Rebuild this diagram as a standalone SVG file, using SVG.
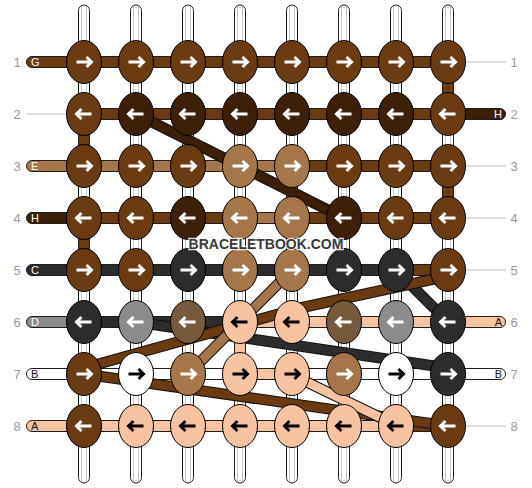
<svg xmlns="http://www.w3.org/2000/svg" xmlns:xlink="http://www.w3.org/1999/xlink" width="532" height="488" viewBox="0 0 532 488">
<style>
.k{stroke:#000;stroke-width:1}
.t{stroke:#1e1e1e;stroke-width:1}
.G{fill:#6A3A10}.H{fill:#3B1F07}.E{fill:#A5764A}.A{fill:#F8C3A0}.C{fill:#2C2C2C}.D{fill:#8B8A8C}.F{fill:#765A3D}.B{fill:#fff}
.W{fill:url(#wv)}
.aw{fill:none;stroke:#fff;stroke-width:3}
.ab{fill:none;stroke:#000;stroke-width:3}
.num{font-family:"Liberation Sans",Arial,sans-serif;font-size:13px;fill:#9a9a9a;text-anchor:middle}
.lb{font-family:"Liberation Sans",Arial,sans-serif;font-size:11px}
.lw{fill:#fff}.lk{fill:#111}
.gl{stroke:#bbb;stroke-width:1}
.o{fill:none;stroke:#111;stroke-width:11;stroke-linejoin:round}
.d{fill:none;stroke-width:9;stroke-linejoin:round}
.sG{stroke:#6A3A10}.sH{stroke:#3B1F07}.sE{stroke:#A5764A}.sA{stroke:#F8C3A0}.sC{stroke:#2C2C2C}
.wm{font-family:"Liberation Sans",Arial,sans-serif;font-size:14px;font-weight:bold;fill:#3a3a3a;text-anchor:middle;stroke:#fff;stroke-opacity:0.85;stroke-width:2.5;paint-order:stroke}
</style>
<defs>
<linearGradient id="wv" x1="0" y1="0" x2="1" y2="0">
<stop offset="0" stop-color="#fff"/><stop offset="0.2" stop-color="#fff"/><stop offset="0.2" stop-color="#c8c8c8"/><stop offset="0.29" stop-color="#c8c8c8"/><stop offset="0.29" stop-color="#fff"/><stop offset="0.71" stop-color="#fff"/><stop offset="0.71" stop-color="#c8c8c8"/><stop offset="0.8" stop-color="#c8c8c8"/><stop offset="0.8" stop-color="#fff"/><stop offset="1" stop-color="#fff"/>
</linearGradient>
<path id="r" d="M-7.5,0H7M2.5,-5L7.5,0L2.5,5"/>
<path id="l" d="M7.5,0H-7M-2.5,-5L-7.5,0L-2.5,5"/>
</defs>
<rect width="532" height="488" fill="#fff"/>

<g id="labels">
<text class="num" x="17" y="66.5">1</text><text class="num" x="17" y="118.5">2</text><text class="num" x="17" y="170.5">3</text><text class="num" x="17" y="222.5">4</text>
<text class="num" x="17" y="274.5">5</text><text class="num" x="17" y="326.5">6</text><text class="num" x="17" y="378.5">7</text><text class="num" x="17" y="430.5">8</text>
<text class="num" x="514" y="66.5">1</text><text class="num" x="514" y="118.5">2</text><text class="num" x="514" y="170.5">3</text><text class="num" x="514" y="222.5">4</text>
<text class="num" x="514" y="274.5">5</text><text class="num" x="514" y="326.5">6</text><text class="num" x="514" y="378.5">7</text><text class="num" x="514" y="430.5">8</text>
<line class="gl" x1="27" y1="114" x2="67" y2="114"/>
<line class="gl" x1="465" y1="62" x2="506" y2="62"/>
<line class="gl" x1="465" y1="166" x2="506" y2="166"/>
<line class="gl" x1="465" y1="218" x2="506" y2="218"/>
<line class="gl" x1="465" y1="270" x2="506" y2="270"/>
<line class="gl" x1="465" y1="426" x2="506" y2="426"/>
</g>

<g id="connectors">
<!-- top and bottom warp threads -->
<rect class="t W" x="78.5" y="5" width="11" height="60" rx="5.5"/>
<rect class="t W" x="130.5" y="5" width="11" height="60" rx="5.5"/>
<rect class="t W" x="182.5" y="5" width="11" height="60" rx="5.5"/>
<rect class="t W" x="234.5" y="5" width="11" height="60" rx="5.5"/>
<rect class="t W" x="286.5" y="5" width="11" height="60" rx="5.5"/>
<rect class="t W" x="338.5" y="5" width="11" height="60" rx="5.5"/>
<rect class="t W" x="390.5" y="5" width="11" height="60" rx="5.5"/>
<rect class="t W" x="442.5" y="5" width="11" height="60" rx="5.5"/>
<rect class="t W" x="78.5" y="423" width="11" height="60" rx="5.5"/>
<rect class="t W" x="130.5" y="423" width="11" height="60" rx="5.5"/>
<rect class="t W" x="182.5" y="423" width="11" height="60" rx="5.5"/>
<rect class="t W" x="234.5" y="423" width="11" height="60" rx="5.5"/>
<rect class="t W" x="286.5" y="423" width="11" height="60" rx="5.5"/>
<rect class="t W" x="338.5" y="423" width="11" height="60" rx="5.5"/>
<rect class="t W" x="390.5" y="423" width="11" height="60" rx="5.5"/>
<rect class="t W" x="442.5" y="423" width="11" height="60" rx="5.5"/>
<!-- vertical segments -->
<g>
<rect class="t W" x="78.5" y="62" width="11" height="52"/><rect class="t W" x="130.5" y="62" width="11" height="52"/><rect class="t W" x="182.5" y="62" width="11" height="52"/><rect class="t W" x="234.5" y="62" width="11" height="52"/><rect class="t W" x="286.5" y="62" width="11" height="52"/><rect class="t W" x="338.5" y="62" width="11" height="52"/><rect class="t W" x="390.5" y="62" width="11" height="52"/><rect class="t G" x="442.5" y="62" width="11" height="52"/>
<rect class="t G" x="78.5" y="114" width="11" height="52"/><rect class="t W" x="130.5" y="114" width="11" height="52"/><rect class="t W" x="182.5" y="114" width="11" height="52"/><rect class="t W" x="234.5" y="114" width="11" height="52"/><rect class="t W" x="286.5" y="114" width="11" height="52"/><rect class="t W" x="338.5" y="114" width="11" height="52"/><rect class="t W" x="390.5" y="114" width="11" height="52"/><rect class="t W" x="442.5" y="114" width="11" height="52"/>
<rect class="t W" x="78.5" y="166" width="11" height="52"/><rect class="t W" x="130.5" y="166" width="11" height="52"/><rect class="t W" x="182.5" y="166" width="11" height="52"/><rect class="t W" x="234.5" y="166" width="11" height="52"/><rect class="t E" x="286.5" y="166" width="11" height="52"/><rect class="t W" x="338.5" y="166" width="11" height="52"/><rect class="t W" x="390.5" y="166" width="11" height="52"/><rect class="t G" x="442.5" y="166" width="11" height="52"/>
<rect class="t G" x="78.5" y="218" width="11" height="52"/><rect class="t W" x="130.5" y="218" width="11" height="52"/><rect class="t W" x="182.5" y="218" width="11" height="52"/><rect class="t W" x="234.5" y="218" width="11" height="52"/><rect class="t W" x="286.5" y="218" width="11" height="52"/><rect class="t W" x="338.5" y="218" width="11" height="52"/><rect class="t W" x="390.5" y="218" width="11" height="52"/><rect class="t W" x="442.5" y="218" width="11" height="52"/>
<rect class="t W" x="78.5" y="270" width="11" height="52"/><rect class="t W" x="130.5" y="270" width="11" height="52"/><rect class="t W" x="182.5" y="270" width="11" height="52"/><rect class="t W" x="234.5" y="270" width="11" height="52"/><rect class="t W" x="286.5" y="270" width="11" height="52"/><rect class="t W" x="338.5" y="270" width="11" height="52"/><rect class="t W" x="390.5" y="270" width="11" height="52"/><rect class="t W" x="442.5" y="270" width="11" height="52"/>
<rect class="t W" x="78.5" y="322" width="11" height="52"/><rect class="t W" x="130.5" y="322" width="11" height="52"/><rect class="t W" x="182.5" y="322" width="11" height="52"/><rect class="t W" x="286.5" y="322" width="11" height="52"/><rect class="t W" x="338.5" y="322" width="11" height="52"/><rect class="t W" x="390.5" y="322" width="11" height="52"/><rect class="t W" x="442.5" y="322" width="11" height="52"/>
<rect class="t W" x="78.5" y="374" width="11" height="52"/><rect class="t W" x="130.5" y="374" width="11" height="52"/><rect class="t W" x="182.5" y="374" width="11" height="52"/><rect class="t W" x="234.5" y="374" width="11" height="52"/><rect class="t W" x="286.5" y="374" width="11" height="52"/><rect class="t W" x="338.5" y="374" width="11" height="52"/><rect class="t W" x="390.5" y="374" width="11" height="52"/><rect class="t W" x="442.5" y="374" width="11" height="52"/>
</g>
<!-- horizontal threads: ends -->
<rect class="t G" x="26.5" y="56.5" width="62" height="11" rx="5.5"/>
<rect class="t E" x="26.5" y="160.5" width="62" height="11" rx="5.5"/>
<rect class="t H" x="26.5" y="212.5" width="62" height="11" rx="5.5"/>
<rect class="t C" x="26.5" y="264.5" width="62" height="11" rx="5.5"/>
<rect class="t D" x="26.5" y="316.5" width="62" height="11" rx="5.5"/>
<rect class="t B" x="26.5" y="368.5" width="62" height="11" rx="5.5"/>
<rect class="t A" x="26.5" y="420.5" width="62" height="11" rx="5.5"/>
<rect class="t H" x="444" y="108.5" width="61.5" height="11" rx="5.5"/>
<rect class="t A" x="444" y="316.5" width="61.5" height="11" rx="5.5"/>
<rect class="t B" x="444" y="368.5" width="61.5" height="11" rx="5.5"/>
<!-- horizontal segments -->
<g>
<rect class="t G" x="84" y="56.5" width="364" height="11"/>
<rect class="t G" x="84" y="108.5" width="364" height="11"/>
<rect class="t E" x="84" y="160.5" width="208" height="11"/><rect class="t G" x="292" y="160.5" width="156" height="11"/>
<rect class="t G" x="84" y="212.5" width="156" height="11"/><rect class="t E" x="240" y="212.5" width="52" height="11"/><rect class="t G" x="292" y="212.5" width="156" height="11"/>
<rect class="t C" x="84" y="264.5" width="312" height="11"/><rect class="t G" x="396" y="264.5" width="52" height="11"/>
<rect class="t C" x="84" y="316.5" width="156" height="11"/><rect class="t A" x="240" y="316.5" width="208" height="11"/>
<rect class="t B" x="84" y="368.5" width="156" height="11"/><rect class="t A" x="240" y="368.5" width="52" height="11"/><rect class="t B" x="292" y="368.5" width="156" height="11"/>
<rect class="t A" x="84" y="420.5" width="312" height="11"/><rect class="t G" x="396" y="420.5" width="52" height="11"/>
</g>
<!-- diagonal jumps -->
<path class="o" d="M136,322L448,368"/><path class="d sC" d="M136,322L448,368"/>
<path class="o" d="M396,270L448,322"/><path class="d sC" d="M396,270L448,322"/>
<path class="o" d="M448,276L300,308L84,368"/><path class="d sG" d="M448,276L300,308L84,368"/>
<path class="o" d="M84,374L448,426"/><path class="d sG" d="M84,374L448,426"/>
<path class="o" d="M292,270L240,322L188,374"/><path class="d sE" d="M292,270L240,322L188,374"/>
<path class="o" d="M292,375L396,425"/><path class="d sA" d="M292,375L396,425"/>
<path class="o" d="M136,114L344,218"/><path class="d sH" d="M136,114L344,218"/>
<rect class="t A" x="234.5" y="322" width="11" height="52"/>
</g>

<g id="knots">
<g id="k1-1" transform="translate(84,62)"><ellipse class="k G" rx="17.5" ry="21.5"/><use href="#r" class="aw"/></g>
<g id="k1-2" transform="translate(136,62)"><ellipse class="k G" rx="17.5" ry="21.5"/><use href="#r" class="aw"/></g>
<g id="k1-3" transform="translate(188,62)"><ellipse class="k G" rx="17.5" ry="21.5"/><use href="#r" class="aw"/></g>
<g id="k1-4" transform="translate(240,62)"><ellipse class="k G" rx="17.5" ry="21.5"/><use href="#r" class="aw"/></g>
<g id="k1-5" transform="translate(292,62)"><ellipse class="k G" rx="17.5" ry="21.5"/><use href="#r" class="aw"/></g>
<g id="k1-6" transform="translate(344,62)"><ellipse class="k G" rx="17.5" ry="21.5"/><use href="#r" class="aw"/></g>
<g id="k1-7" transform="translate(396,62)"><ellipse class="k G" rx="17.5" ry="21.5"/><use href="#r" class="aw"/></g>
<g id="k1-8" transform="translate(448,62)"><ellipse class="k G" rx="17.5" ry="21.5"/><use href="#r" class="aw"/></g>

<g id="k2-1" transform="translate(84,114)"><ellipse class="k G" rx="17.5" ry="21.5"/><use href="#l" class="aw"/></g>
<g id="k2-2" transform="translate(136,114)"><ellipse class="k H" rx="17.5" ry="21.5"/><use href="#l" class="aw"/></g>
<g id="k2-3" transform="translate(188,114)"><ellipse class="k H" rx="17.5" ry="21.5"/><use href="#l" class="aw"/></g>
<g id="k2-4" transform="translate(240,114)"><ellipse class="k H" rx="17.5" ry="21.5"/><use href="#l" class="aw"/></g>
<g id="k2-5" transform="translate(292,114)"><ellipse class="k H" rx="17.5" ry="21.5"/><use href="#l" class="aw"/></g>
<g id="k2-6" transform="translate(344,114)"><ellipse class="k H" rx="17.5" ry="21.5"/><use href="#l" class="aw"/></g>
<g id="k2-7" transform="translate(396,114)"><ellipse class="k H" rx="17.5" ry="21.5"/><use href="#l" class="aw"/></g>
<g id="k2-8" transform="translate(448,114)"><ellipse class="k G" rx="17.5" ry="21.5"/><use href="#l" class="aw"/></g>

<g id="k3-1" transform="translate(84,166)"><ellipse class="k G" rx="17.5" ry="21.5"/><use href="#r" class="aw"/></g>
<g id="k3-2" transform="translate(136,166)"><ellipse class="k G" rx="17.5" ry="21.5"/><use href="#r" class="aw"/></g>
<g id="k3-3" transform="translate(188,166)"><ellipse class="k G" rx="17.5" ry="21.5"/><use href="#r" class="aw"/></g>
<g id="k3-4" transform="translate(240,166)"><ellipse class="k E" rx="17.5" ry="21.5"/><use href="#r" class="aw"/></g>
<g id="k3-5" transform="translate(292,166)"><ellipse class="k E" rx="17.5" ry="21.5"/><use href="#r" class="aw"/></g>
<g id="k3-6" transform="translate(344,166)"><ellipse class="k G" rx="17.5" ry="21.5"/><use href="#r" class="aw"/></g>
<g id="k3-7" transform="translate(396,166)"><ellipse class="k G" rx="17.5" ry="21.5"/><use href="#r" class="aw"/></g>
<g id="k3-8" transform="translate(448,166)"><ellipse class="k G" rx="17.5" ry="21.5"/><use href="#r" class="aw"/></g>

<g id="k4-1" transform="translate(84,218)"><ellipse class="k G" rx="17.5" ry="21.5"/><use href="#l" class="aw"/></g>
<g id="k4-2" transform="translate(136,218)"><ellipse class="k G" rx="17.5" ry="21.5"/><use href="#l" class="aw"/></g>
<g id="k4-3" transform="translate(188,218)"><ellipse class="k H" rx="17.5" ry="21.5"/><use href="#l" class="aw"/></g>
<g id="k4-4" transform="translate(240,218)"><ellipse class="k E" rx="17.5" ry="21.5"/><use href="#l" class="aw"/></g>
<g id="k4-5" transform="translate(292,218)"><ellipse class="k E" rx="17.5" ry="21.5"/><use href="#l" class="aw"/></g>
<g id="k4-6" transform="translate(344,218)"><ellipse class="k H" rx="17.5" ry="21.5"/><use href="#l" class="aw"/></g>
<g id="k4-7" transform="translate(396,218)"><ellipse class="k G" rx="17.5" ry="21.5"/><use href="#l" class="aw"/></g>
<g id="k4-8" transform="translate(448,218)"><ellipse class="k G" rx="17.5" ry="21.5"/><use href="#l" class="aw"/></g>

<g id="k5-1" transform="translate(84,270)"><ellipse class="k G" rx="17.5" ry="21.5"/><use href="#r" class="aw"/></g>
<g id="k5-2" transform="translate(136,270)"><ellipse class="k G" rx="17.5" ry="21.5"/><use href="#r" class="aw"/></g>
<g id="k5-3" transform="translate(188,270)"><ellipse class="k C" rx="17.5" ry="21.5"/><use href="#r" class="aw"/></g>
<g id="k5-4" transform="translate(240,270)"><ellipse class="k E" rx="17.5" ry="21.5"/><use href="#r" class="aw"/></g>
<g id="k5-5" transform="translate(292,270)"><ellipse class="k E" rx="17.5" ry="21.5"/><use href="#r" class="aw"/></g>
<g id="k5-6" transform="translate(344,270)"><ellipse class="k C" rx="17.5" ry="21.5"/><use href="#r" class="aw"/></g>
<g id="k5-7" transform="translate(396,270)"><ellipse class="k C" rx="17.5" ry="21.5"/><use href="#r" class="aw"/></g>
<g id="k5-8" transform="translate(448,270)"><ellipse class="k G" rx="17.5" ry="21.5"/><use href="#r" class="aw"/></g>

<g id="k6-1" transform="translate(84,322)"><ellipse class="k C" rx="17.5" ry="21.5"/><use href="#l" class="aw"/></g>
<g id="k6-2" transform="translate(136,322)"><ellipse class="k D" rx="17.5" ry="21.5"/><use href="#l" class="aw"/></g>
<g id="k6-3" transform="translate(188,322)"><ellipse class="k F" rx="17.5" ry="21.5"/><use href="#l" class="aw"/></g>
<g id="k6-4" transform="translate(240,322)"><ellipse class="k A" rx="17.5" ry="21.5"/><use href="#l" class="ab"/></g>
<g id="k6-5" transform="translate(292,322)"><ellipse class="k A" rx="17.5" ry="21.5"/><use href="#l" class="ab"/></g>
<g id="k6-6" transform="translate(344,322)"><ellipse class="k F" rx="17.5" ry="21.5"/><use href="#l" class="aw"/></g>
<g id="k6-7" transform="translate(396,322)"><ellipse class="k D" rx="17.5" ry="21.5"/><use href="#l" class="aw"/></g>
<g id="k6-8" transform="translate(448,322)"><ellipse class="k C" rx="17.5" ry="21.5"/><use href="#l" class="aw"/></g>

<g id="k7-1" transform="translate(84,374)"><ellipse class="k G" rx="17.5" ry="21.5"/><use href="#r" class="aw"/></g>
<g id="k7-2" transform="translate(136,374)"><ellipse class="k B" rx="17.5" ry="21.5"/><use href="#r" class="ab"/></g>
<g id="k7-3" transform="translate(188,374)"><ellipse class="k E" rx="17.5" ry="21.5"/><use href="#r" class="aw"/></g>
<g id="k7-4" transform="translate(240,374)"><ellipse class="k A" rx="17.5" ry="21.5"/><use href="#r" class="ab"/></g>
<g id="k7-5" transform="translate(292,374)"><ellipse class="k A" rx="17.5" ry="21.5"/><use href="#r" class="ab"/></g>
<g id="k7-6" transform="translate(344,374)"><ellipse class="k E" rx="17.5" ry="21.5"/><use href="#r" class="aw"/></g>
<g id="k7-7" transform="translate(396,374)"><ellipse class="k B" rx="17.5" ry="21.5"/><use href="#r" class="ab"/></g>
<g id="k7-8" transform="translate(448,374)"><ellipse class="k C" rx="17.5" ry="21.5"/><use href="#r" class="aw"/></g>

<g id="k8-1" transform="translate(84,426)"><ellipse class="k G" rx="17.5" ry="21.5"/><use href="#l" class="aw"/></g>
<g id="k8-2" transform="translate(136,426)"><ellipse class="k A" rx="17.5" ry="21.5"/><use href="#l" class="ab"/></g>
<g id="k8-3" transform="translate(188,426)"><ellipse class="k A" rx="17.5" ry="21.5"/><use href="#l" class="ab"/></g>
<g id="k8-4" transform="translate(240,426)"><ellipse class="k A" rx="17.5" ry="21.5"/><use href="#l" class="ab"/></g>
<g id="k8-5" transform="translate(292,426)"><ellipse class="k A" rx="17.5" ry="21.5"/><use href="#l" class="ab"/></g>
<g id="k8-6" transform="translate(344,426)"><ellipse class="k A" rx="17.5" ry="21.5"/><use href="#l" class="ab"/></g>
<g id="k8-7" transform="translate(396,426)"><ellipse class="k A" rx="17.5" ry="21.5"/><use href="#l" class="ab"/></g>
<g id="k8-8" transform="translate(448,426)"><ellipse class="k G" rx="17.5" ry="21.5"/><use href="#l" class="aw"/></g>
</g>

<g id="thread-labels">
<text class="lb lw" x="31" y="66">G</text>
<text class="lb lw" x="31" y="170">E</text>
<text class="lb lw" x="31" y="222">H</text>
<text class="lb lw" x="31" y="274">C</text>
<text class="lb lw" x="31" y="326">D</text>
<text class="lb lk" x="31" y="378">B</text>
<text class="lb lk" x="31" y="430">A</text>
<text class="lb lw" x="502" y="118" text-anchor="end">H</text>
<text class="lb lk" x="502" y="326" text-anchor="end">A</text>
<text class="lb lk" x="502" y="378" text-anchor="end">B</text>
</g>

<text class="wm" x="266" y="248.5">BRACELETBOOK.COM</text>
</svg>
